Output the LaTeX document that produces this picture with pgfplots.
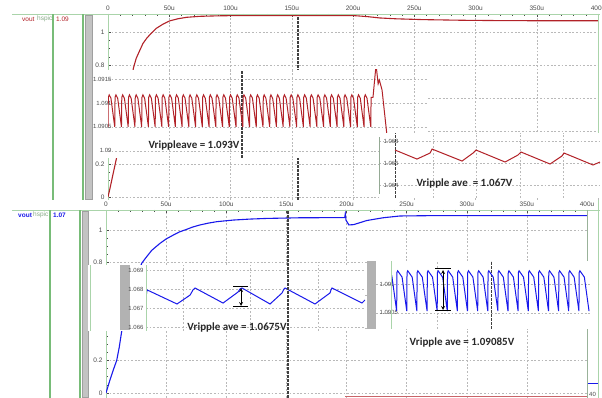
\documentclass[border=0pt]{standalone}
\usepackage{fontspec}
\setmainfont{Liberation Sans}
\newfontfamily\calib{Carlito}
\usepackage{pgfplots}
\pgfplotsset{compat=1.18}
\definecolor{wred}{RGB}{178,34,40}
\definecolor{wblue}{RGB}{25,25,235}
\definecolor{fgreen}{RGB}{170,212,170}
\definecolor{lgreen}{RGB}{120,188,120}
\definecolor{gridc}{RGB}{185,185,185}
\definecolor{tickc}{RGB}{75,75,75}
\definecolor{barc}{RGB}{195,195,195}
\definecolor{txtc}{RGB}{40,40,40}
\tikzset{cursor/.style={black!75, line width=1.1pt, dash pattern=on 2.5pt off 1.5pt}}
\pgfplotsset{
 gridst/.style={grid=major, major grid style={gridc, line width=0.5pt, dash pattern=on 1.8pt off 1.8pt}},
 mainax/.style={scale only axis, anchor=south west, axis x line*=top, axis y line*=left,
   axis line style={fgreen, line width=0.8pt}, gridst, xmin=0, xmax=400,
   xtick={0,50,...,400}, xticklabels={0,50u,100u,150u,200u,250u,300u,350u,400u},
   minor x tick num=4, ytick={0,0.2,0.4,0.6,0.8,1},
   minor y tick num=3, tick align=inside, major tick length=3pt, minor tick length=2pt,
   tick style={tickc, line width=0.4pt}, ticklabel style={font=\fontsize{6.5}{7}\selectfont, text=tickc}},
 inset/.style={scale only axis, anchor=south west, axis line style={draw=none},
   axis background/.style={fill=white}, gridst, major tick length=0pt, minor tick length=0pt,
   xticklabels={}, ticklabel style={font=\fontsize{6}{7}\selectfont, text=tickc}, clip=true},
 curs/.style={extra x ticks={#1}, extra x tick labels={}, extra x tick style={major tick length=0pt, major grid style={cursor}}},
}
\begin{document}
\begin{tikzpicture}[x=1pt,y=1pt]
\fill[white] (0,0) rectangle (602,398);
% ================= TOP PANEL =================
\begin{axis}[mainax, at={(108pt,198pt)}, width=490pt, height=186pt, ymin=-0.01818, ymax=1.10909,
  yticklabels={0,0.2,{},{},0.8,1}, curs={155.1}]
\addplot[wred, line width=1.1pt] coordinates {
(0,0)(2,0.065)(4,0.135)(6.5,0.22)(9,0.31)(12,0.42)(15,0.53)(18,0.66)(20.7,0.78)(23,0.84)(26.1,0.891)
(28.5,0.93)(31.6,0.962)(35,0.99)(39.4,1.022)(45,1.048)(50.6,1.068)(57,1.08)(64.2,1.089)(75,1.095)
(90,1.098)(110,1.1)(150,1.1)(199,1.1)(205,1.097)(212,1.093)(222,1.085)(235,1.08)(257,1.075)
(290,1.071)(320,1.069)(360,1.068)(400,1.068)};
\end{axis}
\fill[white] (92,240) rectangle (428,328);
\draw[fgreen, line width=0.6pt] (108,240) -- (108,328);
\begin{axis}[inset, at={(108pt,240pt)}, width=320pt, height=88pt, xmin=0, xmax=261.2, ymin=1.08985, ymax=1.09169,
  xtick={50,100,...,250}, ytick={1.09,1.0905,1.091,1.0915}, yticklabels={1.09,1.0905,1.091,1.0915},
  yticklabel style={anchor=east, xshift=7pt}, curs={109.4}]
\addplot[wred, line width=1pt] coordinates {
(0,1.0905)(0.25,1.09112)(1,1.09117)(2.4,1.0911)
(5.5,1.0905)(5.75,1.09112)(6.5,1.09117)(7.9,1.0911)
(11,1.0905)(11.25,1.09112)(12,1.09117)(13.4,1.0911)
(16.5,1.0905)(16.75,1.09112)(17.5,1.09117)(18.9,1.0911)
(22,1.0905)(22.25,1.09112)(23,1.09117)(24.4,1.0911)
(27.5,1.0905)(27.75,1.09112)(28.5,1.09117)(29.9,1.0911)
(33,1.0905)(33.25,1.09112)(34,1.09117)(35.4,1.0911)
(38.5,1.0905)(38.75,1.09112)(39.5,1.09117)(40.9,1.0911)
(44,1.0905)(44.25,1.09112)(45,1.09117)(46.4,1.0911)
(49.5,1.0905)(49.75,1.09112)(50.5,1.09117)(51.9,1.0911)
(55,1.0905)(55.25,1.09112)(56,1.09117)(57.4,1.0911)
(60.5,1.0905)(60.75,1.09112)(61.5,1.09117)(62.9,1.0911)
(66,1.0905)(66.25,1.09112)(67,1.09117)(68.4,1.0911)
(71.5,1.0905)(71.75,1.09112)(72.5,1.09117)(73.9,1.0911)
(77,1.0905)(77.25,1.09112)(78,1.09117)(79.4,1.0911)
(82.5,1.0905)(82.75,1.09112)(83.5,1.09117)(84.9,1.0911)
(88,1.0905)(88.25,1.09112)(89,1.09117)(90.4,1.0911)
(93.5,1.0905)(93.75,1.09112)(94.5,1.09117)(95.9,1.0911)
(99,1.0905)(99.25,1.09112)(100,1.09117)(101.4,1.0911)
(104.5,1.0905)(104.75,1.09112)(105.5,1.09117)(106.9,1.0911)
(110,1.0905)(110.25,1.09112)(111,1.09117)(112.4,1.0911)
(115.5,1.0905)(115.75,1.09112)(116.5,1.09117)(117.9,1.0911)
(121,1.0905)(121.25,1.09112)(122,1.09117)(123.4,1.0911)
(126.5,1.0905)(126.75,1.09112)(127.5,1.09117)(128.9,1.0911)
(132,1.0905)(132.25,1.09112)(133,1.09117)(134.4,1.0911)
(137.5,1.0905)(137.75,1.09112)(138.5,1.09117)(139.9,1.0911)
(143,1.0905)(143.25,1.09112)(144,1.09117)(145.4,1.0911)
(148.5,1.0905)(148.75,1.09112)(149.5,1.09117)(150.9,1.0911)
(154,1.0905)(154.25,1.09112)(155,1.09117)(156.4,1.0911)
(159.5,1.0905)(159.75,1.09112)(160.5,1.09117)(161.9,1.0911)
(165,1.0905)(165.25,1.09112)(166,1.09117)(167.4,1.0911)
(170.5,1.0905)(170.75,1.09112)(171.5,1.09117)(172.9,1.0911)
(176,1.0905)(176.25,1.09112)(177,1.09117)(178.4,1.0911)
(181.5,1.0905)(181.75,1.09112)(182.5,1.09117)(183.9,1.0911)
(187,1.0905)(187.25,1.09112)(188,1.09117)(189.4,1.0911)
(192.5,1.0905)(192.75,1.09112)(193.5,1.09117)(194.9,1.0911)
(198,1.0905)(198.25,1.09112)(199,1.09117)(200.4,1.0911)
(203.5,1.0905)(203.75,1.09112)(204.5,1.09117)(205.9,1.0911)
(209,1.0905)(209.25,1.09112)(210,1.09117)(211.4,1.0911)
(214.5,1.0905)(214.75,1.09112)(216.3,1.09112)(218.8,1.0918)(220.5,1.0914)(221.5,1.09148)
(223.7,1.09127)(227.8,1.0903)(232,1.0895)};
\end{axis}
\begin{axis}[inset, at={(379pt,200pt)}, width=221pt, height=65pt, xmin=221.2, xmax=401.6, ymin=1.06282, ymax=1.06873,
  xtick={265.3,300.4,336.3,371.4}, ytick={1.064,1.066,1.068}, yticklabels={1.064,1.066,1.068},
  yticklabel style={anchor=west, xshift=1pt}, curs={234.3}]
\addplot[wred, line width=1pt] coordinates {
(234.3,1.06718)(252.2,1.06636)(262.9,1.06691)(264.5,1.06727)(289,1.06618)(298,1.06691)(300.4,1.06718)
(324.1,1.06609)(334.7,1.06673)(337.1,1.067)(360.8,1.06591)(370.6,1.06664)(372.2,1.06691)
(395.9,1.06582)(401.6,1.06609)};
\end{axis}
\draw[gray!50!fgreen, line width=0.9pt] (379,204) -- (379,261);
\node[font=\calib\bfseries\fontsize{11}{13}\selectfont, text=txtc] at (194,252) {Vrippleave = 1.093V};
\node[font=\calib\bfseries\fontsize{11}{13}\selectfont, text=txtc] at (464.5,214) {Vripple ave~ = 1.067V};
% left top decorations
\draw[fgreen, line width=0.8pt] (12,384) -- (600,384);
\draw[fgreen, line width=0.8pt] (598,265) -- (598,384);
\draw[lgreen, line width=1.4pt] (53,198) -- (53,384);
\draw[lgreen, line width=1.2pt] (83,198) -- (83,384);
\filldraw[fill=barc, draw=gray!75, line width=0.6pt] (85,199) rectangle (92,383);
\node[font=\fontsize{6.5}{7}\selectfont, text=wred, anchor=west, inner sep=0pt] at (22,379) {vout};
\node[font=\fontsize{6.5}{7}\selectfont, text=fgreen!80!black, anchor=west, inner sep=0pt] at (37,379) {hspic};
\node[font=\fontsize{6.5}{7}\selectfont, text=wred, anchor=west, inner sep=0pt] at (56,379) {1.09};
% ================= BOTTOM PANEL =================
\begin{axis}[mainax, at={(106pt,0pt)}, width=481pt, height=188pt, ymin=-0.03067, ymax=1.1227,
  yticklabels={0,0.2,{},{},0.8,1}]
\addplot[wblue, line width=1.1pt] coordinates {
(0,0)(3.3,0.08)(6,0.14)(8.9,0.2)(11,0.28)(13,0.376)(16,0.47)(20,0.59)(25,0.7)(29.7,0.796)(33.8,0.836)
(38,0.875)(44.9,0.918)(50,0.945)(56,0.969)(61,0.988)(67.1,1.004)(72,1.018)(78.2,1.031)(85,1.042)
(92.1,1.051)(105.9,1.061)(119.8,1.067)(133.6,1.071)(161.3,1.075)(198.5,1.076)(199,1.1)(199.6,1.06)
(202,1.031)(206,1.033)(216.8,1.058)(230.4,1.075)(244.5,1.086)(270,1.088)(400,1.088)};
\end{axis}
\draw[fgreen, line width=0.8pt] (12,188) -- (600,188);
\draw[gray!40!fgreen, line width=0.8pt] (587,0) -- (587,188);
\draw[fgreen, line width=0.8pt] (598,0) -- (598,198);
\draw[lgreen, line width=1.4pt] (50,0) -- (50,188);
\draw[lgreen, line width=1.2pt] (80,0) -- (80,188);
\filldraw[fill=barc, draw=gray!75, line width=0.6pt] (82,1) rectangle (88,187);
\node[font=\bfseries\fontsize{6.5}{7}\selectfont, text=wblue, anchor=west, inner sep=0pt] at (18,183) {vout};
\node[font=\fontsize{6.5}{7}\selectfont, text=fgreen!80!black, anchor=west, inner sep=0pt] at (33,183) {hspic};
\node[font=\bfseries\fontsize{6.5}{7}\selectfont, text=wblue, anchor=west, inner sep=0pt] at (53,183) {1.07};
% B1
\fill[white] (88,67) rectangle (365,133);
\draw[fgreen, line width=1pt] (90,67) -- (90,133);
\fill[gray!60] (120,68) rectangle (130,133);
\begin{axis}[inset, at={(146pt,67pt)}, width=219pt, height=66pt, xmin=33.2, xmax=215.4, ymin=1.06579, ymax=1.06926,
  xtick={64,119.8,176.3}, ytick={1.066,1.067,1.068,1.069}, yticklabels={1.066,1.067,1.068,1.069},
  yticklabel style={anchor=east, xshift=1pt}]
\addplot[wblue, line width=1pt] coordinates {
(33.2,1.06758)(34.1,1.06795)(59,1.06721)(69.9,1.06768)(72.3,1.06795)(74,1.06805)(97.3,1.06726)
(109.8,1.06784)(111.4,1.068)(113.1,1.06805)(136.4,1.06721)(146.4,1.06779)(148,1.068)(148.9,1.06805)
(173.8,1.06721)(186.3,1.06779)(187.1,1.06795)(187.9,1.06805)(212.9,1.06726)(215.4,1.06742)};
\end{axis}
\draw[fgreen, line width=0.8pt] (146,67) -- (146,133);
% B2
\fill[gray!60] (367,69) rectangle (376,137);
\begin{axis}[inset, at={(376pt,69pt)}, width=214pt, height=68pt, xmin=224.5, xmax=402.5, ymin=1.09022, ymax=1.0914,
  xtick={275.3}, ytick={1.0905,1.091}, yticklabels={1.0905,1.091},
  yticklabel style={anchor=west, xshift=0pt}, curs={320.2}]
\addplot[wblue, line width=1pt] coordinates {
(237.6,1.09115)(241.7,1.09053)
(241.7,1.09053)(241.9,1.0912)(242.5,1.09123)(246.2,1.09112)
(250.1,1.09053)(250.3,1.0912)(250.9,1.09123)(254.6,1.09112)
(258.5,1.09053)(258.7,1.0912)(259.3,1.09123)(263,1.09112)
(267,1.09053)(267.2,1.0912)(267.8,1.09123)(271.5,1.09112)
(275.4,1.09053)(275.6,1.0912)(276.2,1.09123)(279.9,1.09112)
(283.8,1.09053)(284,1.0912)(284.6,1.09123)(288.3,1.09112)
(292.2,1.09053)(292.4,1.0912)(293,1.09123)(296.7,1.09112)
(300.6,1.09053)(300.8,1.0912)(301.4,1.09123)(305.1,1.09112)
(309.1,1.09053)(309.3,1.0912)(309.9,1.09123)(313.6,1.09112)
(317.5,1.09053)(317.7,1.0912)(318.3,1.09123)(322,1.09112)
(325.9,1.09053)(326.1,1.0912)(326.7,1.09123)(330.4,1.09112)
(334.3,1.09053)(334.5,1.0912)(335.1,1.09123)(338.8,1.09112)
(342.7,1.09053)(342.9,1.0912)(343.5,1.09123)(347.2,1.09112)
(351.2,1.09053)(351.4,1.0912)(352,1.09123)(355.7,1.09112)
(359.6,1.09053)(359.8,1.0912)(360.4,1.09123)(364.1,1.09112)
(368,1.09053)(368.2,1.0912)(368.8,1.09123)(372.5,1.09112)
(376.4,1.09053)(376.6,1.0912)(377.2,1.09123)(380.9,1.09112)
(384.8,1.09053)(385,1.0912)(385.6,1.09123)(389.3,1.09112)
(393.3,1.09053)(393.5,1.0912)(394.1,1.09123)(397.8,1.09112)
(401.7,1.09053)};
\end{axis}
\draw[fgreen, line width=0.8pt] (391,69) -- (391,137);
% cursors and annotations
\draw[cursor] (288,0) -- (288,188);
\draw[black, line width=1pt] (233,111) -- (248,111) (233,91) -- (248,91);
\draw[black, line width=0.8pt, <->, >=stealth] (241,110) -- (241,92);
\draw[black, line width=1pt] (435,129) -- (451,129) (435,87) -- (451,87);
\draw[black, line width=0.8pt, <->, >=stealth] (443,128) -- (443,88);
\node[font=\calib\bfseries\fontsize{11}{13}\selectfont, text=txtc] at (237,70) {Vripple ave = 1.0675V};
\node[font=\calib\bfseries\fontsize{11}{13}\selectfont, text=txtc] at (462,55) {Vripple ave = 1.09085V};
\draw[wred!70, line width=1pt] (345,1) -- (587,1);
\draw[wblue, line width=1pt] (588,14) -- (598,14);
\node[font=\fontsize{6}{7}\selectfont, text=tickc, anchor=west, inner sep=0pt] at (589,4) {40};
\pgfresetboundingbox
\path[use as bounding box] (0,0) rectangle (602,398);
\end{tikzpicture}
\end{document}
